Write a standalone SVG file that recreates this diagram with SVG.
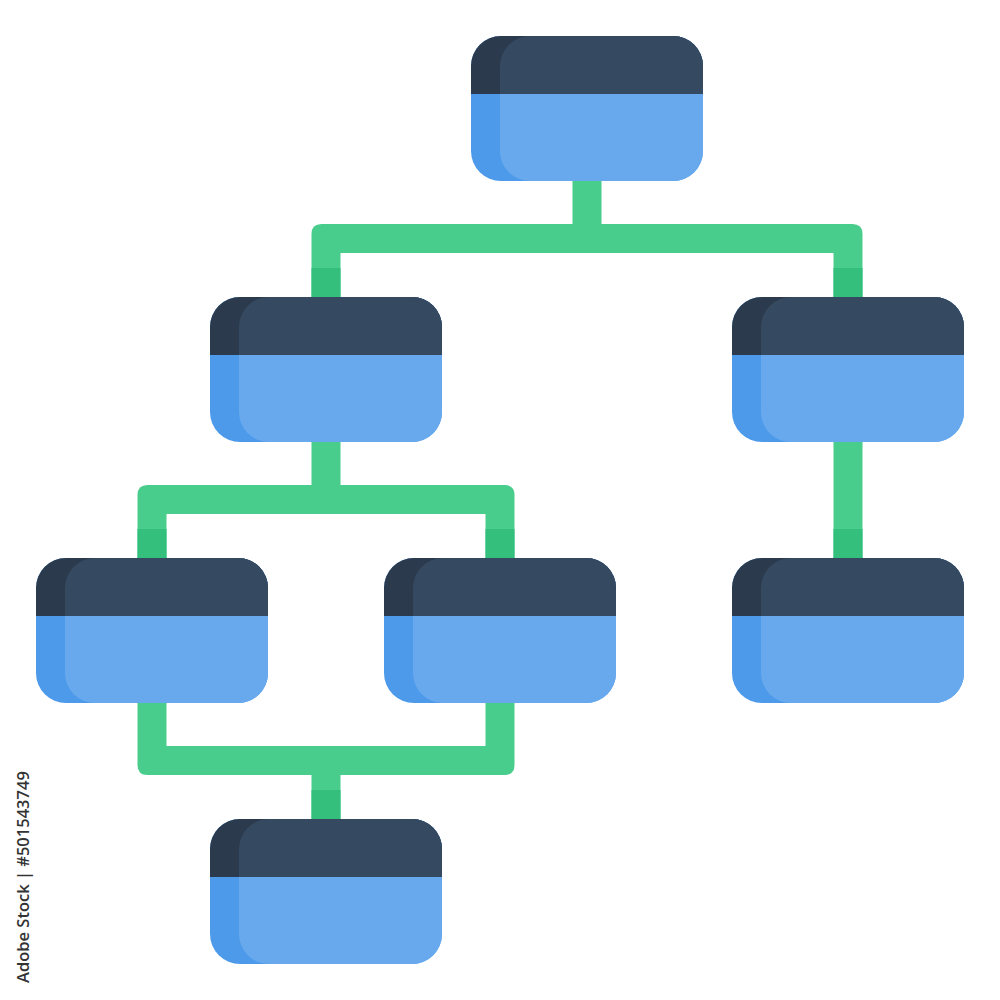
<svg xmlns="http://www.w3.org/2000/svg" xmlns:xlink="http://www.w3.org/1999/xlink" width="1000" height="1000" viewBox="0 0 1000 1000">
  <style>
    .wire { fill: #48CD8D; }
    .wire-dark { fill: #35BF7D; }
    .stamp { font-family: "Open Sans", "Noto Sans", sans-serif; font-size: 16.5px; font-weight: 600; fill: #333333; }
  </style>
  <defs>
    <clipPath id="clipOuter"><rect x="0" y="0" width="232" height="145" rx="30" ry="30"/></clipPath>
    <clipPath id="clipInner"><rect x="29" y="0" width="203" height="145" rx="30" ry="30"/></clipPath>
    <g id="node">
      <rect x="0" y="0" width="232" height="145" rx="30" ry="30" fill="#4D9AEB"/>
      <rect x="29" y="0" width="203" height="145" rx="30" ry="30" fill="#68A9EE"/>
      <rect x="0" y="0" width="232" height="58" fill="#2B3A4C" clip-path="url(#clipOuter)"/>
      <rect x="0" y="0" width="232" height="58" fill="#354A60" clip-path="url(#clipInner)"/>
    </g>
  </defs>
  <rect width="1000" height="1000" fill="#FFFFFF"/>

  <g id="connectors">
    <!-- root to level 2 -->
    <rect class="wire" x="572.5" y="178" width="29" height="50"/>
    <path class="wire" d="M311.5,297 V234 Q311.5,224 321.5,224 H852.5 Q862.5,224 862.5,234 V297 H833.5 V253 H340.5 V297 Z"/>
    <rect class="wire-dark" x="311.5" y="268" width="29" height="29"/>
    <rect class="wire-dark" x="833.5" y="268" width="29" height="29"/>
    <!-- level 2 left to level 3 -->
    <rect class="wire" x="311.5" y="439" width="29" height="50"/>
    <path class="wire" d="M137.5,558 V495 Q137.5,485 147.5,485 H504.5 Q514.5,485 514.5,495 V558 H485.5 V514 H166.5 V558 Z"/>
    <rect class="wire-dark" x="137.5" y="529" width="29" height="29"/>
    <rect class="wire-dark" x="485.5" y="529" width="29" height="29"/>
    <!-- level 2 right to level 3 right -->
    <rect class="wire" x="833.5" y="439" width="29" height="119"/>
    <rect class="wire-dark" x="833.5" y="529" width="29" height="29"/>
    <!-- level 3 to bottom -->
    <path class="wire" d="M137.5,700 V765 Q137.5,775 147.5,775 H504.5 Q514.5,775 514.5,765 V700 H485.5 V746 H166.5 V700 Z"/>
    <rect class="wire" x="311.5" y="770" width="29" height="49"/>
    <rect class="wire-dark" x="311.5" y="790" width="29" height="29"/>
  </g>

  <g id="node-root" transform="translate(471,36)"><use xlink:href="#node" href="#node"/></g>
  <g id="node-l2-left" transform="translate(210,297)"><use xlink:href="#node" href="#node"/></g>
  <g id="node-l2-right" transform="translate(732,297)"><use xlink:href="#node" href="#node"/></g>
  <g id="node-l3-left" transform="translate(36,558)"><use xlink:href="#node" href="#node"/></g>
  <g id="node-l3-mid" transform="translate(384,558)"><use xlink:href="#node" href="#node"/></g>
  <g id="node-l3-right" transform="translate(732,558)"><use xlink:href="#node" href="#node"/></g>
  <g id="node-bottom" transform="translate(210,819)"><use xlink:href="#node" href="#node"/></g>

  <text class="stamp" x="29" y="983" transform="rotate(-90 29 983)">Adobe Stock | #501543749</text>
</svg>
